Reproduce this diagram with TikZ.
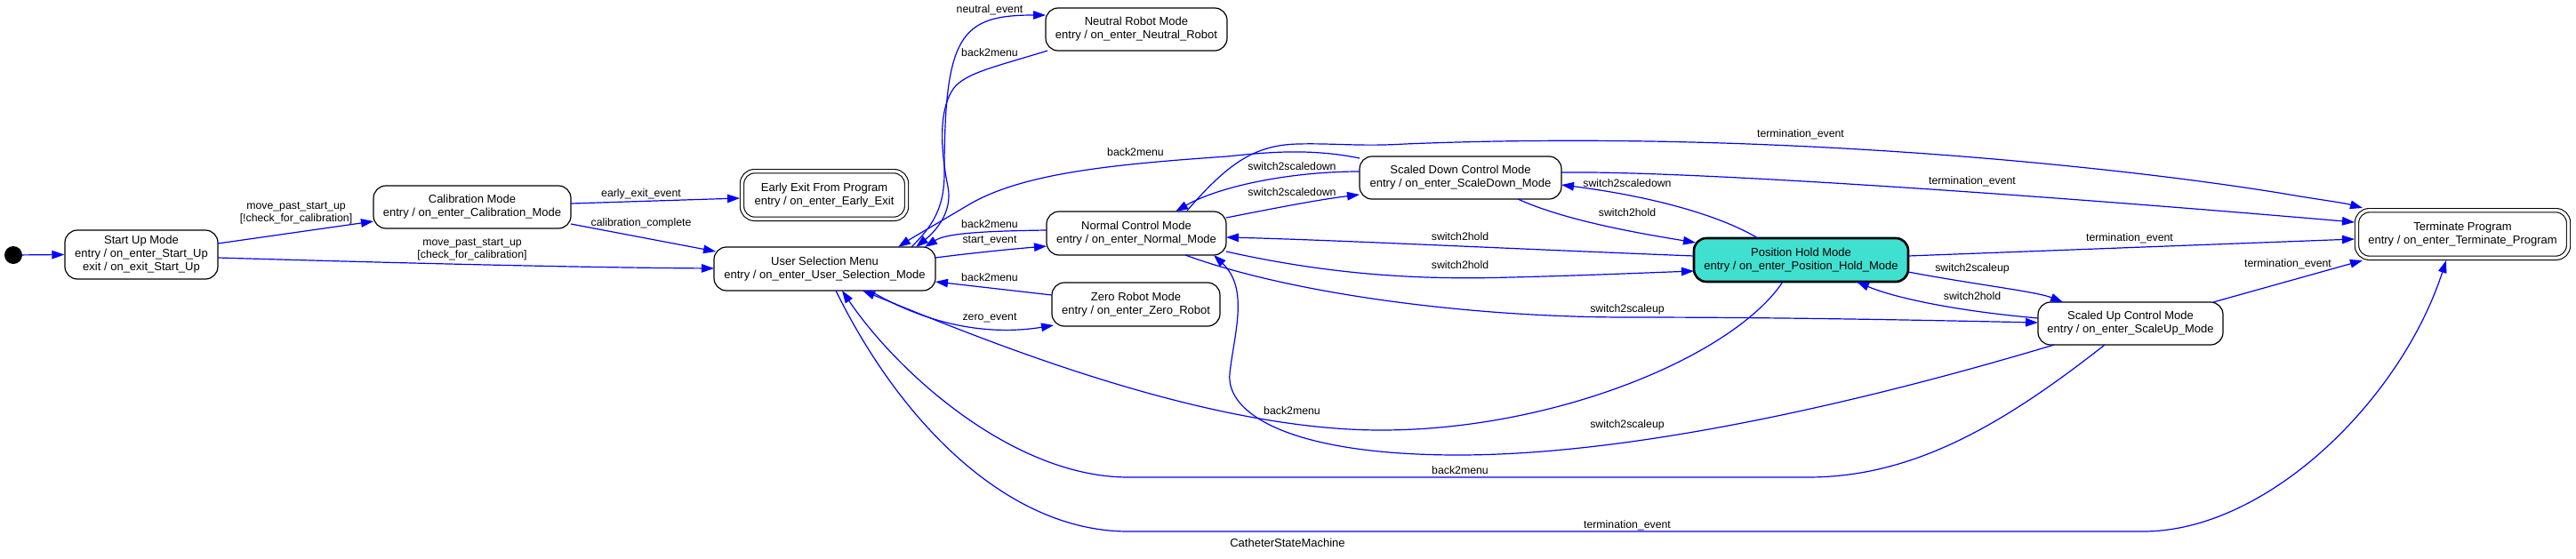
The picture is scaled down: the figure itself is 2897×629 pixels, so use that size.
\documentclass[tikz,border=0pt]{standalone}
\usepackage{fontspec}
\setmainfont{Liberation Sans}
\usetikzlibrary{arrows.meta,calc}
\definecolor{edgeblue}{RGB}{0,0,255}
\definecolor{holdfill}{RGB}{64,224,208}
\begin{document}
\begin{tikzpicture}[x=1pt,y=-1pt,
  state/.style={draw=black, line width=1.2pt, rounded corners=14pt, align=center, inner sep=0pt, font=\fontsize{13}{15}\selectfont},
  final/.style={state, double=white, double distance=3.2pt, line width=1.1pt},
  trans/.style={draw=edgeblue, line width=1.2pt, -{Triangle[length=14pt,width=9.5pt]}},
  lbl/.style={font=\fontsize{12.3}{13.5}\selectfont, inner sep=0pt, align=center},
]
\useasboundingbox (0,0) rectangle (2897,629);

% states
\node[circle, fill=black, minimum size=20pt, inner sep=0pt] (init) at (15,287) {};
\node[state, minimum width=172pt, minimum height=55pt] (su) at (159,286.5) {Start Up Mode\\entry / on\_enter\_Start\_Up\\exit / on\_exit\_Start\_Up};
\node[state, minimum width=222pt, minimum height=48pt] (cal) at (531,233) {Calibration Mode\\entry / on\_enter\_Calibration\_Mode};
\node[final, minimum width=185pt, minimum height=53.6pt] (ee) at (927,219.5) {Early Exit From Program\\entry / on\_enter\_Early\_Exit};
\node[state, minimum width=249pt, minimum height=49pt] (menu) at (927.5,302.5) {User Selection Menu\\entry / on\_enter\_User\_Selection\_Mode};
\node[state, minimum width=202pt, minimum height=49pt] (nrm) at (1278,262.5) {Normal Control Mode\\entry / on\_enter\_Normal\_Mode};
\node[state, minimum width=189pt, minimum height=49pt] (zero) at (1277.5,342.5) {Zero Robot Mode\\entry / on\_enter\_Zero\_Robot};
\node[state, minimum width=204pt, minimum height=48pt] (neu) at (1278,33) {Neutral Robot Mode\\entry / on\_enter\_Neutral\_Robot};
\node[state, minimum width=227pt, minimum height=48pt] (sd) at (1642.5,200) {Scaled Down Control Mode\\entry / on\_enter\_ScaleDown\_Mode};
\node[state, fill=holdfill, line width=2.6pt, minimum width=241pt, minimum height=49pt] (hold) at (2025.5,292.5) {Position Hold Mode\\entry / on\_enter\_Position\_Hold\_Mode};
\node[state, minimum width=208pt, minimum height=48pt] (up) at (2396,364) {Scaled Up Control Mode\\entry / on\_enter\_ScaleUp\_Mode};
\node[final, minimum width=238pt, minimum height=53.6pt] (term) at (2769.5,263.5) {Terminate Program\\entry / on\_enter\_Terminate\_Program};

% transitions
\draw[trans] (init) -- (su.west);
\draw[trans] ($(su)+(86,-12.5)$) -- ($(cal)+(-111,16)$);
\draw[trans] ($(su)+(86,3.5)$) .. controls (450,296) and (650,301) .. ($(menu)+(-124.5,-0.5)$);
\draw[trans] ($(cal)+(111,-4)$) -- ($(ee)+(-95,3.5)$);
\draw[trans] ($(cal)+(111,19)$) -- ($(menu)+(-122.5,-19.5)$);
\draw[trans] ($(menu)+(97.5,-24.5)$) .. controls (1048,255) and (1062,235) .. (1062,195) .. controls (1062,40) and (1080,17) .. ($(neu)+(-102,-16)$);
\draw[trans] ($(neu)+(-100,24)$) .. controls (1120,75) and (1085,82) .. (1072,100) .. controls (1055,125) and (1058,170) .. (1066,210) .. controls (1072,240) and (1050,262) .. ($(menu)+(102.5,-24.5)$);
\draw[trans] ($(nrm)+(-101,-3.5)$) .. controls (1110,260) and (1065,262) .. ($(menu)+(112.5,-24.5)$);
\draw[trans] ($(menu)+(124.5,-12.5)$) .. controls (1090,285) and (1140,280) .. ($(nrm)+(-101,14.5)$);
\draw[trans] ($(zero)+(-94.5,-10.5)$) -- ($(menu)+(124.5,14.5)$);
\draw[trans] ($(menu)+(50.5,24.5)$) .. controls (1060,375) and (1130,375) .. ($(zero)+(-92.5,23.5)$);
\draw[trans] ($(hold)+(-20.5,24.5)$) .. controls (1950,400) and (1750,484) .. (1553,484) .. controls (1350,484) and (1100,380) .. ($(menu)+(42.5,24.5)$);
\draw[trans] ($(up)+(-29,24)$) .. controls (2250,480) and (2150,537) .. (2033,537) -- (1269,537) .. controls (1140,537) and (1010,420) .. ($(menu)+(19.5,24.5)$);
\draw[trans] ($(menu)+(12.5,24.5)$) .. controls (1010,470) and (1130,598) .. (1269,598) -- (2410,598) .. controls (2550,598) and (2700,450) .. ($(term)+(-18.5,29.5)$);
\draw[trans] ($(up)+(-86,24)$) .. controls (2120,445) and (1850,512) .. (1640,512) .. controls (1450,512) and (1378,465) .. (1383,420) .. controls (1388,375) and (1405,325) .. ($(nrm)+(87,24.5)$);
\draw[trans] ($(nrm)+(55,24.5)$) .. controls (1450,330) and (1650,357) .. (1830,357) .. controls (2000,357) and (2150,360) .. ($(up)+(-104,-1)$);
\draw[trans] ($(hold)+(120.5,13.5)$) .. controls (2220,320) and (2290,328) .. ($(up)+(-76,-24)$);
\draw[trans] ($(up)+(-104,-6)$) .. controls (2200,350) and (2130,335) .. ($(hold)+(62.5,24.5)$);
\draw[trans] ($(up)+(93,-24)$) -- ($(term)+(-112.5,29.5)$);
\draw[trans] ($(hold)+(120.5,-4.5)$) -- ($(term)+(-121.5,5.5)$);
\draw[trans] ($(sd)+(113.5,-6)$) .. controls (1900,192) and (2300,220) .. ($(term)+(-121.5,-13.5)$);
\draw[trans] ($(nrm)+(57,-25.5)$) .. controls (1380,185) and (1410,163) .. (1460,162) .. controls (1500,161) and (1530,165) .. (1580,162) .. controls (2000,145) and (2400,190) .. (2569,218) .. controls (2610,225) and (2635,228) .. ($(term)+(-112.5,-29.5)$);
\draw[trans] ($(sd)+(-113.5,-7)$) .. controls (1450,193) and (1370,210) .. ($(nrm)+(44,-24.5)$);
\draw[trans] ($(nrm)+(101,-17.5)$) .. controls (1430,235) and (1480,225) .. ($(sd)+(-113.5,19)$);
\draw[trans] ($(sd)+(-113.5,-22)$) .. controls (1470,166) and (1420,172) .. (1380,176) .. controls (1250,185) and (1150,195) .. (1090,230) .. controls (1060,248) and (1030,265) .. ($(menu)+(82.5,-24.5)$);
\draw[trans] ($(hold)+(-48.5,-24.5)$) .. controls (1930,240) and (1850,220) .. ($(sd)+(113.5,8)$);
\draw[trans] ($(sd)+(64.5,24)$) .. controls (1760,248) and (1840,262) .. ($(hold)+(-118.5,-19.5)$);
\draw[trans] ($(hold)+(-120.5,-4.5)$) .. controls (1700,280) and (1500,270) .. ($(nrm)+(101,4.5)$);
\draw[trans] ($(nrm)+(101,20.5)$) .. controls (1500,310) and (1600,315) .. (1700,312) .. controls (1780,310) and (1850,307) .. ($(hold)+(-120.5,12.5)$);

% labels
\node[lbl] (l1) at (333,240) {move\_past\_start\_up\\{}[!check\_for\_calibration]};
\node[lbl] (l2) at (531,281) {move\_past\_start\_up\\{}[check\_for\_calibration]};
\node[lbl] (l3) at (721,218) {early\_exit\_event};
\node[lbl] (l4) at (721,251) {calibration\_complete};
\node[lbl] (l5) at (1113,11) {neutral\_event};
\node[lbl] (l6) at (1113,59) {back2menu};
\node[lbl] (l7) at (1277,171) {back2menu};
\node[lbl] (l8) at (1113,252) {back2menu};
\node[lbl] (l9) at (1113,271) {start\_event};
\node[lbl] (l10) at (1113,312) {back2menu};
\node[lbl] (l11) at (1113,358) {zero\_event};
\node[lbl] (l12) at (1453,462) {back2menu};
\node[lbl] (l13) at (1642,529) {back2menu};
\node[lbl] (l14) at (1830,591) {termination\_event};
\node[lbl] (l15) at (1830,478) {switch2scaleup};
\node[lbl] (l16) at (1830,348) {switch2scaleup};
\node[lbl] (l17) at (2218,302) {switch2scaleup};
\node[lbl] (l18) at (2218,333) {switch2hold};
\node[lbl] (l19) at (2573,297) {termination\_event};
\node[lbl] (l20) at (2395,268) {termination\_event};
\node[lbl] (l21) at (2218,204) {termination\_event};
\node[lbl] (l22) at (2025,151) {termination\_event};
\node[lbl] (l23) at (1453,187) {switch2scaledown};
\node[lbl] (l24) at (1453,216) {switch2scaledown};
\node[lbl] (l25) at (1830,206) {switch2scaledown};
\node[lbl] (l26) at (1830,239) {switch2hold};
\node[lbl] (l27) at (1642,266) {switch2hold};
\node[lbl] (l28) at (1642,298) {switch2hold};
\node[font=\fontsize{13}{15}\selectfont, inner sep=0pt] (title) at (1448,611) {CatheterStateMachine};
\end{tikzpicture}
\end{document}
